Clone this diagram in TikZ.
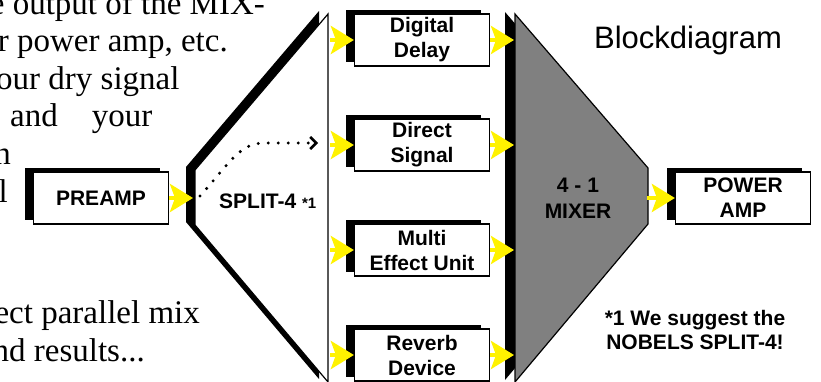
\documentclass[tikz,border=0pt]{standalone}
\usepackage{fontspec}
\setmainfont{Liberation Serif}
\setsansfont{Liberation Sans}
\usetikzlibrary{arrows.meta,shadows}

\tikzset{
  unit/.style={draw, line width=1.2pt, fill=white, minimum width=135pt, minimum height=52pt,
    inner sep=0pt, align=center, font=\sffamily\bfseries\fontsize{21}{25}\selectfont,
    general shadow={fill=black, shadow xshift=-9pt, shadow yshift=4pt}},
  feed/.style={draw=yellow, line width=4pt, -{Stealth[length=23pt, width=28pt, inset=5pt, fill=yellow]}},
  prose/.style={inner sep=0pt, font=\fontsize{33}{38}\selectfont},
  tag/.style={inner sep=0pt, align=center, font=\sffamily\bfseries\fontsize{21}{26}\selectfont},
}

\begin{document}
\begin{tikzpicture}[x=1pt, y=-1pt]
  \useasboundingbox (0,0) rectangle (821,382);
  \clip (0,0) rectangle (821,382);

  % text cut off at the left
  \node[prose, anchor=base east] (t1) at (265,15) {e output of the MIX-};
  \node[prose, anchor=base east] (t2) at (228,52) {r power amp, etc.};
  \node[prose, anchor=base west] (t3) at (-4,90) {our dry signal};
  \node[prose, anchor=base west] (t4) at (10,127) {and\hspace{34pt}your};
  \node[prose, anchor=base east] (t5) at (11,165) {n};
  \node[prose, anchor=base east] (t6) at (8,202) {l};
  \node[prose, anchor=base east] (t7) at (200,323) {fect parallel mix};
  \node[prose, anchor=base east] (t8) at (145,361) {nd results...};

  % splitter
  \fill[black, shift={(-9,-3)}] (195,170) -- (328,14) -- (328,382) -- (195,225) -- cycle;
  \filldraw[fill=white, line width=1.2pt] (195,170) -- (328,14) -- (328,382) -- (195,225) -- cycle;
  \node[tag, anchor=base west] (split) at (219,208) {SPLIT-4 {\fontsize{15}{15}\selectfont *1}};

  % mixer
  \fill[black, shift={(-10,-2)}] (515,14) -- (648,168) -- (648,224) -- (515,382) -- cycle;
  \filldraw[fill=gray, line width=1.2pt] (515,14) -- (648,168) -- (648,224) -- (515,382) -- cycle;
  \node[tag] (mixer) at (578,198) {4 - 1\\MIXER};

  \node[unit] (pre) at (101,198) {PREAMP};
  \node[unit] (delay) at (422,40) {Digital\\Delay};
  \node[unit] (direct) at (422,145) {Direct\\Signal};
  \node[unit] (multi) at (422,250) {Multi\\Effect Unit};
  \node[unit] (reverb) at (422,355) {Reverb\\Device};
  \node[unit] (power) at (743,198) {POWER\\AMP};

  \node[font=\sffamily\fontsize{31}{31}\selectfont] (title) at (688,40) {Blockdiagram};
  \node[tag, font=\sffamily\bfseries\fontsize{21}{24}\selectfont] (note) at (695,330) {*1 We suggest the\\NOBELS SPLIT-4!};

  \coordinate (sin) at (193,198);
  \coordinate (mout) at (647,198);
  \foreach \k/\y in {1/40,2/145,3/250,4/355} {
    \coordinate (s\k) at (330,\y);
    \coordinate (m\k) at (514,\y);
  }

  \draw[feed] (pre.east) -- (sin);
  \draw[feed] (s1) -- (delay.west);
  \draw[feed] (s2) -- (direct.west);
  \draw[feed] (s3) -- (multi.west);
  \draw[feed] (s4) -- (reverb.west);
  \draw[feed] (delay.east) -- (m1);
  \draw[feed] (direct.east) -- (m2);
  \draw[feed] (multi.east) -- (m3);
  \draw[feed] (reverb.east) -- (m4);
  \draw[feed] (mout) -- (power.west);

  % dotted path through the splitter
  \coordinate (d0) at (200,196);
  \coordinate (d1) at (318,143);
  \draw[line width=3.4pt, line cap=round, dash pattern=on 0pt off 10pt,
    -{Straight Barb[length=6pt, width=12pt, line width=2.5pt]}]
    (d0) .. controls (232,160) and (240,143) .. (265,143) -- (d1);
\end{tikzpicture}
\end{document}
